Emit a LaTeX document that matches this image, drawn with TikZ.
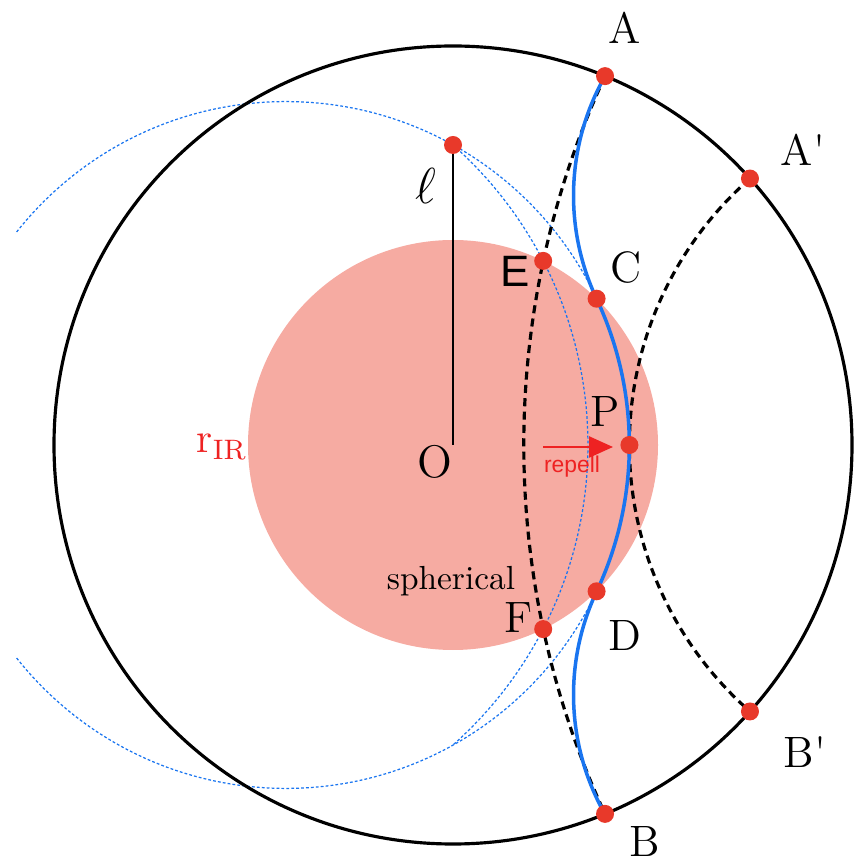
\documentclass[tikz,border=0pt]{standalone}
\usepackage{fontspec}
\usepackage{tikz}
\usetikzlibrary{arrows.meta}
\newfontfamily\labsans{Liberation Sans}
\definecolor{cdot}{HTML}{E8392A}
\definecolor{cdisk}{HTML}{F6ABA2}
\definecolor{cgeo}{HTML}{1A75F0}
\definecolor{crep}{HTML}{EE2222}
\tikzset{
  dot/.style={circle, fill=cdot, inner sep=0pt, minimum size=1.8mm},
  lab/.style={font=\fontsize{12.5}{14}\selectfont},
  rim/.style={line width=0.9pt},
  geo/.style={line width=0.9pt, dash pattern=on 2.3pt off 1.5pt},
  surf/.style={draw=cgeo, line width=1pt},
  aux/.style={draw=cgeo, line width=0.35pt, dash pattern=on 0.8pt off 0.6pt},
  ellline/.style={line width=0.6pt},
  push/.style={draw=crep, line width=0.7pt, -{Triangle[length=2.4mm, width=2.1mm]}},
}

\begin{document}
\begin{tikzpicture}[x=1cm,y=1cm]
\useasboundingbox (-4.53,-4.19) rectangle (4.01,4.45);
\fill[cdisk] (0,0) circle[radius=2.05];
\begin{scope}
\clip (-4.37,-4.19) rectangle (4.01,4.45);
\draw[aux] (-1.67,0) circle[radius=3.434];
\end{scope}
\draw[rim] (0,0) circle[radius=3.99];
\coordinate (O) at (0,0);
\coordinate (L) at (0,3);
\coordinate (A) at (67.6:3.99);
\coordinate (B) at (-67.6:3.99);
\coordinate (Ap) at (41.9:3.99);
\coordinate (Bp) at (-41.9:3.99);
\coordinate (E) at (0.902,1.841);
\coordinate (F) at (0.902,-1.841);
\coordinate (C) at (1.436,1.463);
\coordinate (D) at (1.436,-1.463);
\coordinate (P) at (1.764,0);
\draw[aux] (L) arc[start angle=48.44, end angle=-48.44, radius=4.009];
\draw[ellline] (L) -- (O);
\draw[geo] (A) arc[start angle=155.16, end angle=204.84, radius=8.783];
\draw[geo] (Ap) arc[start angle=131.3, end angle=228.7, radius=3.547];
\draw[surf] (A) arc[start angle=150.45, end angle=205.22, radius=2.4235]
  arc[start angle=25.22, end angle=-25.22, radius=3.434]
  arc[start angle=154.78, end angle=209.55, radius=2.4235];
\coordinate (rs) at (0.90,-0.02);
\coordinate (re) at (1.60,-0.02);
\draw[push] (rs) -- (re);
\foreach \p in {L,A,B,Ap,Bp,E,F,C,D,P} \node[dot] (d\p) at (\p) {};
\node[lab] (labA) at (1.72,4.17) {A};
\node[lab] (labAp) at (3.50,2.95) {A\textquotesingle};
\node[lab] (labBp) at (3.52,-3.07) {B\textquotesingle};
\node[lab] (labB) at (1.92,-3.96) {B};
\node[lab] (labC) at (1.73,1.77) {C};
\node[lab, font=\labsans\fontsize{12.5}{14}\selectfont] (labE) at (0.62,1.74) {E};
\node[lab] (labP) at (1.52,0.33) {P};
\node[lab] (labD) at (1.72,-1.90) {D};
\node[lab] (labF) at (0.66,-1.73) {F};
\node[lab, font=\fontsize{13}{15}\selectfont] (labO) at (-0.18,-0.17) {O};
\node[font=\fontsize{15}{17}\selectfont] (labL) at (-0.27,2.59) {$\ell$};
\node[font=\fontsize{9.5}{11}\selectfont] (labS) at (-0.02,-1.36) {spherical};
\node[font=\fontsize{12}{14}\selectfont, text=crep] (labR) at (-2.31,-0.02) {$\mathrm{r}_{\mathrm{IR}}$};
\node[font=\labsans\fontsize{6.5}{7}\selectfont, text=crep] (labRep) at (1.19,-0.22) {repell};
\end{tikzpicture}
\end{document}
